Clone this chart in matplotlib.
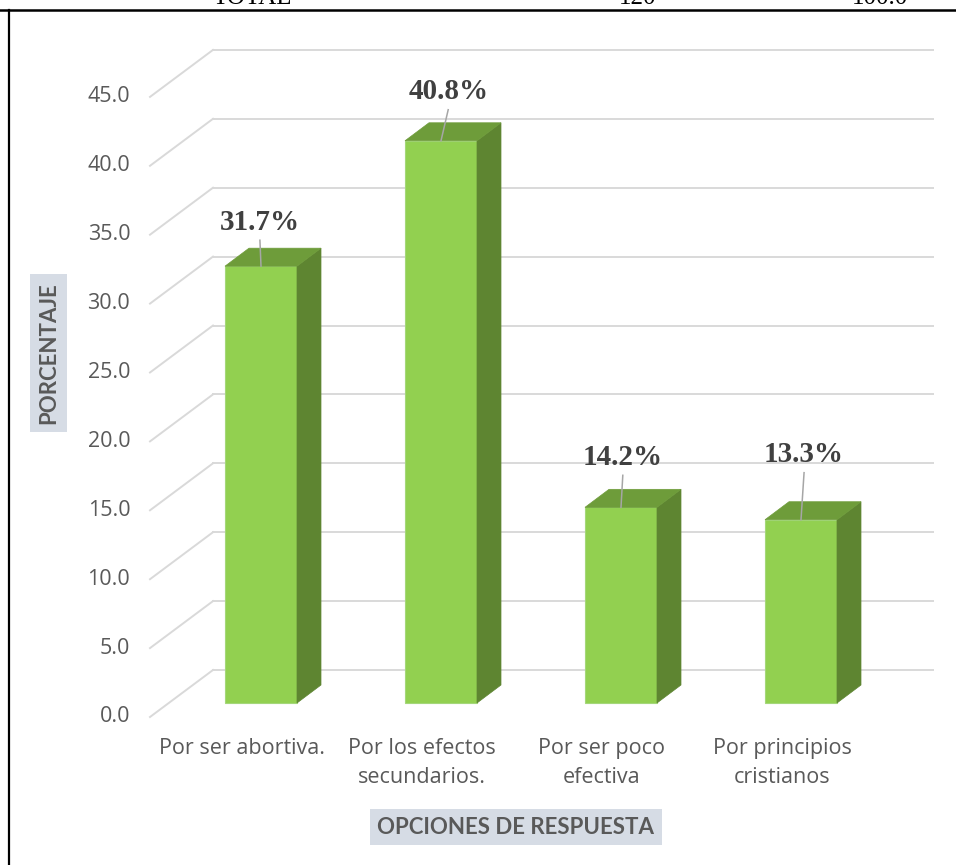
import matplotlib
matplotlib.use('Agg')
import matplotlib.pyplot as plt
from matplotlib.patches import Polygon
from matplotlib.lines import Line2D

# datos del gráfico
categorias = ['Por ser abortiva.', 'Por los efectos\nsecundarios.', 'Por ser poco\nefectiva', 'Por principios\ncristianos']
porcentajes = [31.7, 40.8, 14.2, 13.3]
etiquetas = ['31.7%', '40.8%', '14.2%', '13.3%']
ticks_y = [0, 5, 10, 15, 20, 25, 30, 35, 40, 45]

# colores
verde_frente = '#92D050'
verde_lado = '#5E8531'
verde_arriba = '#6E9C3A'
gris_grid = '#D9D9D9'
gris_texto = '#595959'
fondo_titulo = '#D6DCE5'

# escala en pixeles (figura 956x865)
W, H = 956, 865
px_cat = 180.0       # pixeles por categoría
px_val = 13.78       # pixeles por punto porcentual
x_px0 = 242.0        # centro de la primera categoría (plano frontal)
y_px0 = 717.0        # valor 0 en el plano frontal

# profundidad del efecto 3D (en unidades de datos)
pared_dx, pared_dy = 63 / px_cat, 47 / px_val
barra_dx0, barra_dy0 = 19 / px_cat, 14 / px_val
barra_px, barra_py = 24 / px_cat, 18 / px_val
ancho = 72 / px_cat
x_izq = (150 - x_px0) / px_cat
x_der = (933 - x_px0) / px_cat

# posición de las etiquetas respecto al centro de la barra (dx, dy)
desplaz_etiquetas = [(-0.006, 3.19), (0.04, 3.56), (0.01, 3.63), (0.017, 4.72)]

fig = plt.figure(figsize=(W / 100, H / 100), dpi=100)
ax = fig.add_axes([0, 0, 1, 1])
ax.set_xlim(-x_px0 / px_cat, (W - x_px0) / px_cat)
ax.set_ylim((y_px0 - H) / px_val, y_px0 / px_val)
ax.axis('off')

# líneas de cuadrícula (pared lateral y pared del fondo)
for v in ticks_y:
    ax.plot([x_izq, x_izq + pared_dx], [v, v + pared_dy], color=gris_grid, lw=1.4, zorder=1)
    ax.plot([x_izq + pared_dx, x_der], [v + pared_dy, v + pared_dy], color=gris_grid, lw=1.4, zorder=1)
    ax.text(x_izq - 0.11, v, '%.1f' % v, ha='right', va='center',
            fontsize=15.5, color=gris_texto, family='Open Sans')

# barras 3D
for i, v in enumerate(porcentajes):
    xc = i + barra_dx0
    xl, xr = xc - ancho / 2, xc + ancho / 2
    b = barra_dy0
    ax.bar(xc, v, width=ancho, bottom=b, color=verde_frente, edgecolor='#A4D77A', lw=0.8, zorder=3)
    lado = [(xr, b), (xr + barra_px, b + barra_py), (xr + barra_px, b + v + barra_py), (xr, b + v)]
    ax.add_patch(Polygon(lado, closed=True, facecolor=verde_lado, edgecolor=verde_lado, lw=0.5, zorder=3))
    arriba = [(xl, b + v), (xl + barra_px, b + v + barra_py), (xr + barra_px, b + v + barra_py), (xr, b + v)]
    ax.add_patch(Polygon(arriba, closed=True, facecolor=verde_arriba, edgecolor=verde_arriba, lw=0.5, zorder=3))

    # etiqueta con línea guía
    dx, dy = desplaz_etiquetas[i]
    tx, ty = xc + dx, b + v + dy
    ax.text(tx, ty, etiquetas[i], ha='center', va='center', fontsize=21, fontweight='bold',
            color='#404040', family='Liberation Serif', zorder=5)
    ax.plot([tx, xc], [ty - 18 / px_val, b + v], color='#A6A6A6', lw=1.1, zorder=4)

    # nombre de la categoría
    ax.text(i, -1.55, categorias[i], ha='center', va='top', fontsize=15.5, color=gris_texto,
            family='Open Sans', linespacing=1.5)

# títulos de los ejes
ax.text((516 - x_px0) / px_cat, (y_px0 - 827) / px_val, 'OPCIONES DE RESPUESTA', ha='center', va='center',
        fontsize=16, fontweight='bold', color=gris_texto, family='Lato',
        bbox=dict(boxstyle='square,pad=0.35', facecolor=fondo_titulo, edgecolor='none'))
ax.text((48.5 - x_px0) / px_cat, (y_px0 - 353) / px_val, 'PORCENTAJE', ha='center', va='center',
        rotation=90, fontsize=16, fontweight='bold', color=gris_texto, family='Lato',
        bbox=dict(boxstyle='square,pad=0.35', facecolor=fondo_titulo, edgecolor='none'))

# restos de la tabla superior (recortada) y bordes
for txt, xp in [('TOTAL', 252), ('120', 638), ('100.0', 880)]:
    fig.text(xp / W, 1 - 4 / H, txt, ha='center', va='baseline', fontsize=18,
             family='Liberation Serif', color='black')
fig.add_artist(Line2D([0, 1], [1 - 10 / H, 1 - 10 / H], color='black', lw=1.8))
fig.add_artist(Line2D([9 / W, 9 / W], [0, 1 - 10 / H], color='black', lw=1.6))

fig.savefig('out.png', dpi=100)
